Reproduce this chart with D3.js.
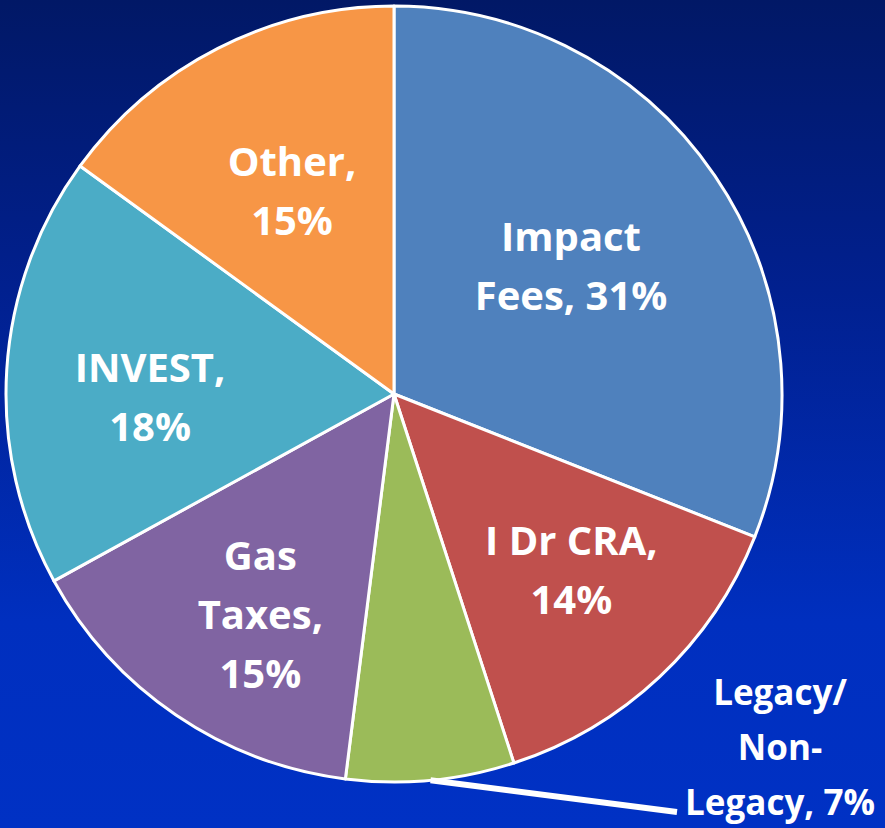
<!DOCTYPE html>
<html>
<head>
<meta charset="utf-8">
<script src="https://cdn.jsdelivr.net/npm/d3@7"></script>
<style>
  html, body { margin: 0; padding: 0; }
  body { width: 885px; height: 828px; overflow: hidden; }
</style>
</head>
<body>
<svg id="chart" width="885" height="828"></svg>
<script>
// data
let categories = ["Impact Fees", "I Dr CRA", "Legacy/Non-Legacy", "Gas Taxes", "INVEST", "Other"];
let shares = [31, 14, 7, 15, 18, 15];
let labelLines = [
    ["Impact", "Fees, 31%"],
    ["I Dr CRA,", "14%"],
    ["Legacy/", "Non-", "Legacy, 7%"],
    ["Gas", "Taxes,", "15%"],
    ["INVEST,", "18%"],
    ["Other,", "15%"]
];
let colors = ["#4f81bd", "#c0504d", "#9bbb59", "#8064a2", "#4bacc6", "#f79646"];

let width = 885;
let height = 828;
let cx = 394;
let cy = 394;
let radius = 388;
let fontFamily = "'Open Sans', 'Noto Sans', sans-serif";

let svg = d3.select("#chart");

// background gradient
let defs = svg.append("defs");
let grad = defs.append("linearGradient")
    .attr("id", "bg")
    .attr("x1", 0).attr("y1", 0)
    .attr("x2", 0).attr("y2", 1);
grad.append("stop").attr("offset", "0%").attr("stop-color", "#011866");
grad.append("stop").attr("offset", "35%").attr("stop-color", "#01208f");
grad.append("stop").attr("offset", "75%").attr("stop-color", "#002fbf");
grad.append("stop").attr("offset", "100%").attr("stop-color", "#0031c4");
svg.append("rect")
    .attr("width", width)
    .attr("height", height)
    .attr("fill", "url(#bg)");

let table = categories.map((c, i) => ({name: c, value: shares[i], lines: labelLines[i], color: colors[i]}));

let pie = d3.pie()
    .sort(null)
    .value(d => d.value);
let arcs = pie(table);

let arc = d3.arc()
    .innerRadius(0)
    .outerRadius(radius);

let g = svg.append("g")
    .attr("transform", "translate(" + cx + "," + cy + ")");

g.selectAll("path")
    .data(arcs)
    .enter()
    .append("path")
    .attr("d", arc)
    .style("fill", d => d.data.color)
    .style("stroke", "#ffffff")
    .style("stroke-width", 3)
    .style("stroke-linejoin", "round");

// label placement (best-fit like the original): radius and angle nudge in degrees
let labelRadius = [218, 250, 0, 258, 244, 227];
let labelNudge = [-1.5, -2, 0, -3, -4.5, 0.3];

function polar(angle, r) {
    return [r * Math.sin(angle), -r * Math.cos(angle)];
}

arcs.forEach(function (d, i) {
    let mid = (d.startAngle + d.endAngle) / 2;
    if (i === 2) {
        // outside label with leader line
        let p0 = polar(mid, radius);
        let lab = [386, 395];
        g.append("line")
            .attr("x1", p0[0])
            .attr("y1", p0[1])
            .attr("x2", lab[0] - 103)
            .attr("y2", lab[1] + 23)
            .style("stroke", "#ffffff")
            .style("stroke-width", 6);
        let t = g.append("text")
            .attr("x", lab[0])
            .attr("y", lab[1] - 84)
            .attr("text-anchor", "middle")
            .style("font-family", fontFamily)
            .style("font-weight", "bold")
            .style("font-size", "35px")
            .style("fill", "#ffffff");
        d.data.lines.forEach(function (line, k) {
            t.append("tspan")
                .attr("x", lab[0])
                .attr("dy", k === 0 ? 0 : 55)
                .text(line);
        });
        return;
    }
    let p = polar(mid + labelNudge[i] * Math.PI / 180, labelRadius[i]);
    let n = d.data.lines.length;
    let lineH = 59;
    let t = g.append("text")
        .attr("x", p[0])
        .attr("y", p[1] - (n - 1) * lineH / 2 + 14)
        .attr("text-anchor", "middle")
        .style("font-family", fontFamily)
        .style("font-weight", "bold")
        .style("font-size", "40px")
        .style("fill", "#ffffff");
    d.data.lines.forEach(function (line, k) {
        t.append("tspan")
            .attr("x", p[0])
            .attr("dy", k === 0 ? 0 : lineH)
            .text(line);
    });
});
</script>
</body>
</html>
